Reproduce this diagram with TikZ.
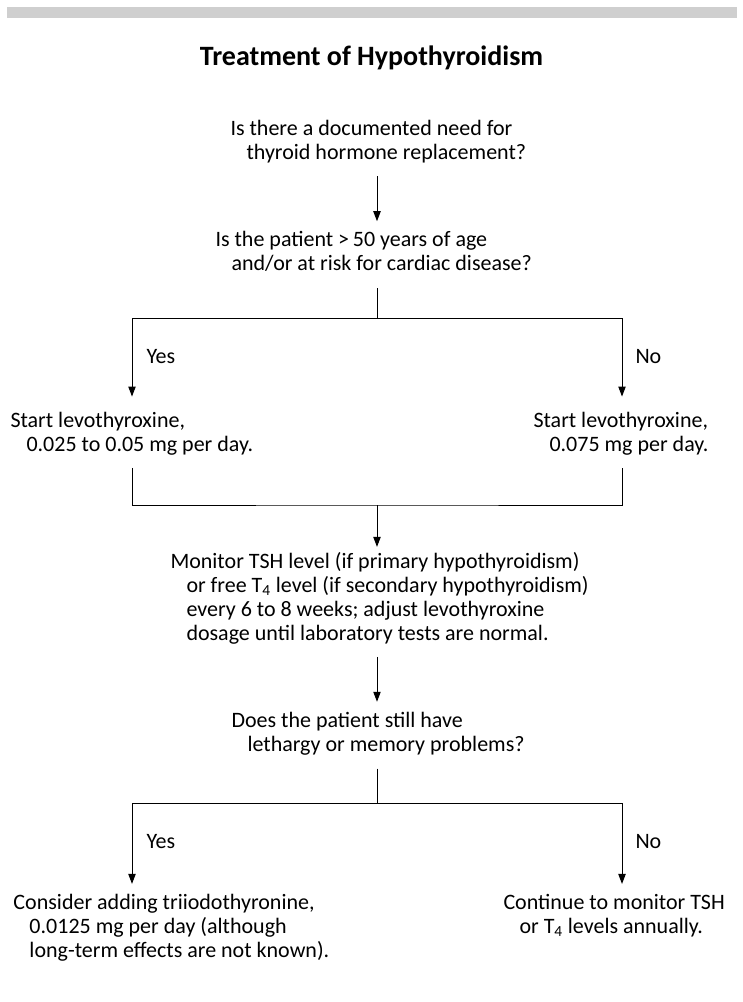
\documentclass[tikz,border=0pt]{standalone}
\usepackage{fontspec}
\setmainfont{Carlito}
\usetikzlibrary{arrows.meta}

\newcommand{\ind}{\hspace*{12pt}}

\begin{document}
\begin{tikzpicture}[
    x=0.75pt, y=-0.75pt,
    >={Triangle[length=7.5pt,width=5.5pt]},
    line width=0.75pt,
    flow text/.style={
        anchor=base west,
        align=left,
        inner sep=0pt,
        font=\fontsize{16.5}{18}\selectfont
    },
    branch label/.style={
        anchor=base west,
        inner sep=0pt,
        font=\fontsize{16.5}{18}\selectfont
    },
    title text/.style={
        anchor=base,
        inner sep=0pt,
        font=\fontsize{21}{24}\selectfont\bfseries
    }
]

% Page and header bar
\path[use as bounding box, fill=white] (0,0) rectangle (742,1002);
\fill[black!19] (7,7) rectangle (737,18);

\node[title text] (title) at (371.5,66) {Treatment of Hypothyroidism};

% Columns of the connectors
\coordinate (mid) at (377,0);
\coordinate (left) at (132,0);
\coordinate (right) at (622,0);
\coordinate (split1) at (377,318);
\coordinate (merge1) at (377,505);
\coordinate (split2) at (377,803);

% Questions and steps (placed at the baseline of their last line)
\node[flow text] (need) at (230,160) {Is there a documented need for\\\ind thyroid hormone replacement?};
\node[flow text] (age) at (215,270) {Is the patient >\,50 years of age\\\ind and/or at risk for cardiac disease?};
\node[flow text] (low) at (10,451) {Start levothyroxine,\\\ind 0.025 to 0.05 mg per day.};
\node[flow text] (full) at (533,451) {Start levothyroxine,\\\ind 0.075 mg per day.};
\node[flow text] (monitor) at (170,640) {Monitor TSH level (if primary hypothyroidism)\\\ind or free T\textsubscript{4} level (if secondary hypothyroidism)\\\ind every 6 to 8 weeks; adjust levothyroxine\\\ind dosage until laboratory tests are normal.};
\node[flow text] (still) at (231,751) {Does the patient still have\\\ind lethargy or memory problems?};
\node[flow text] (add) at (13,957) {Consider adding triiodothyronine,\\\ind 0.0125 mg per day (although\\\ind long-term effects are not known).};
\node[flow text] (annual) at (503,933) {Continue to monitor TSH\\\ind or T\textsubscript{4} levels annually.};

% Branch labels
\node[branch label] (yes1) at (146,363) {Yes};
\node[branch label] (no1) at (635,363) {No};
\node[branch label] (yes2) at (146,848) {Yes};
\node[branch label] (no2) at (635,848) {No};

% Connectors
\draw[->, shorten <=9pt, shorten >=6.75pt] (need.south -| mid) -- (age.north -| mid);
\draw[shorten <=12.75pt] (age.south -| mid) -- (split1);
\draw[->, shorten >=11pt] (split1) -| (low.north -| left);
\draw[->, shorten >=11pt] (split1) -| (full.north -| right);
\draw[shorten <=9.4pt, shorten >=9.4pt] (low.south -| left) |- (merge1) -| (full.south -| right);
\draw[->, shorten >=3.4pt] (merge1) -- (monitor.north -| mid);
\draw[->, shorten <=9.4pt, shorten >=7.1pt] (monitor.south -| mid) -- (still.north -| mid);
\draw[shorten <=10pt] (still.south -| mid) -- (split2);
\draw[->, shorten >=7pt] (split2) -| (add.north -| left);
\draw[->, shorten >=7pt] (split2) -| (annual.north -| right);

\end{tikzpicture}
\end{document}
